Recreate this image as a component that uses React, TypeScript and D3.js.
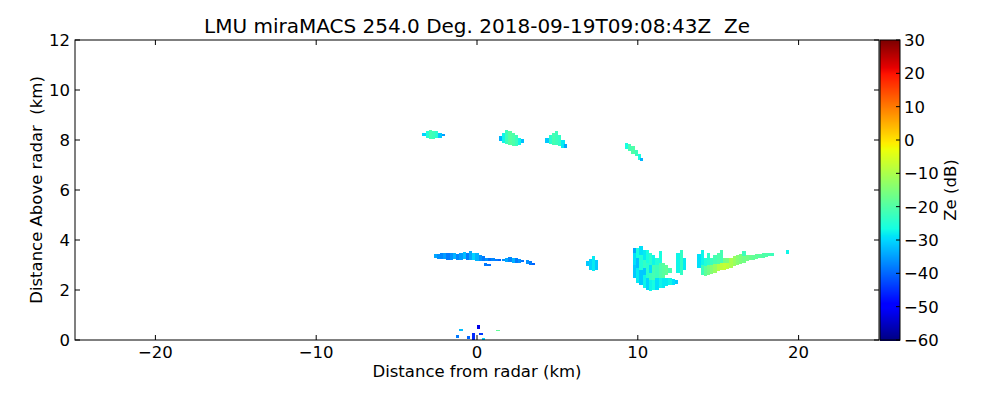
import React from "react";
import * as d3 from "d3";

// ---- Data (range km, height bottom km, height top km, Ze dB) ----
const titleText = "LMU miraMACS 254.0 Deg. 2018-09-19T09:08:43Z  Ze";
const xTicks = [-20, -10, 0, 10, 20];
const yTicks = [0, 2, 4, 6, 8, 10, 12];
const cbTicks = [-60, -50, -40, -30, -20, -10, 0, 10, 20, 30];

const echoUpperA: [number, number, number, number][] = [
  [-3.3, 8.15, 8.27, -30], [-3.1, 8.1, 8.35, -25], [-2.9, 8.05, 8.4, -21],
  [-2.7, 8.05, 8.38, -22], [-2.5, 8.1, 8.35, -24], [-2.3, 8.1, 8.28, -31],
  [-2.1, 8.15, 8.25, -35],
];
const echoUpperB: [number, number, number, number][] = [
  [1.45, 7.95, 8.15, -33], [1.65, 7.9, 8.3, -27], [1.85, 7.85, 8.4, -22],
  [2.05, 7.8, 8.35, -19], [2.25, 7.75, 8.3, -20], [2.45, 7.75, 8.2, -22],
  [2.65, 7.8, 8.1, -27], [2.85, 7.9, 8.05, -32],
];
const echoUpperC: [number, number, number, number][] = [
  [4.35, 7.9, 8.1, -31], [4.55, 7.85, 8.2, -24], [4.75, 7.8, 8.3, -21],
  [4.95, 7.8, 8.35, -22], [5.15, 7.75, 8.2, -23], [5.35, 7.7, 8.0, -28],
  [5.5, 7.7, 7.85, -34],
];
const echoUpperD: [number, number, number, number][] = [
  [9.3, 7.65, 7.9, -26], [9.5, 7.55, 7.85, -21], [9.7, 7.45, 7.75, -20],
  [9.9, 7.35, 7.6, -22], [10.1, 7.2, 7.45, -26], [10.25, 7.15, 7.3, -33],
];
const echoLowE: [number, number, number, number][] = [
  [-2.6, 3.3, 3.45, -34], [-2.4, 3.25, 3.45, -36], [-2.2, 3.25, 3.5, -37],
  [-2.0, 3.25, 3.5, -35], [-1.8, 3.22, 3.5, -38], [-1.6, 3.22, 3.48, -36],
  [-1.4, 3.25, 3.5, -33], [-1.2, 3.2, 3.45, -37], [-1.0, 3.22, 3.5, -35],
  [-0.8, 3.25, 3.52, -32], [-0.6, 3.2, 3.5, -38], [-0.4, 3.2, 3.55, -34],
  [-0.2, 3.2, 3.5, -30], [0.0, 3.18, 3.5, -33], [0.2, 3.15, 3.42, -36],
  [0.4, 3.15, 3.35, -38], [0.6, 3.15, 3.3, -36], [0.8, 3.15, 3.3, -39],
  [1.0, 3.15, 3.28, -37], [1.2, 3.15, 3.25, -38], [1.4, 3.17, 3.25, -40],
  [0.55, 2.98, 3.08, -38], [0.75, 2.98, 3.06, -39],
];
const echoLowF: [number, number, number, number][] = [
  [1.65, 3.15, 3.25, -36], [1.85, 3.12, 3.3, -34], [2.05, 3.12, 3.32, -37],
  [2.25, 3.1, 3.3, -33], [2.45, 3.1, 3.3, -38], [2.65, 3.1, 3.25, -36],
  [2.85, 3.12, 3.22, -39], [3.15, 3.05, 3.2, -36], [3.35, 3.02, 3.15, -38],
  [3.5, 3.0, 3.08, -40],
];
const echoLowG: [number, number, number, number][] = [
  [6.85, 2.95, 3.15, -31], [7.05, 2.8, 3.25, -30], [7.25, 2.75, 3.35, -28],
  [7.45, 2.8, 3.2, -31],
];
const echoLowH: [number, number, number, number][] = [
  [9.8, 2.5, 3.0, -31], [9.8, 3.0, 3.5, -29], [9.8, 3.5, 3.7, -34],
  [10.0, 2.3, 2.9, -28], [10.0, 2.9, 3.3, -32], [10.0, 3.3, 3.7, -26],
  [10.2, 2.2, 2.8, -31], [10.2, 2.8, 3.4, -25], [10.2, 3.4, 3.75, -29],
  [10.4, 2.1, 2.6, -27], [10.4, 2.6, 2.9, -31], [10.4, 2.9, 3.2, -23], [10.4, 3.2, 3.6, -28],
  [10.6, 2.0, 2.5, -30], [10.6, 2.5, 3.1, -24], [10.6, 3.1, 3.6, -26],
  [10.8, 1.95, 2.4, -27], [10.8, 2.4, 2.7, -22], [10.8, 2.7, 3.0, -29], [10.8, 3.0, 3.5, -24],
  [11.0, 2.0, 2.4, -26], [11.0, 2.4, 3.0, -21], [11.0, 3.0, 3.4, -27],
  [11.2, 2.0, 2.5, -29], [11.2, 2.5, 3.0, -22], [11.2, 3.0, 3.3, -25],
  [11.4, 2.1, 2.5, -27], [11.4, 2.5, 3.1, -20], [11.4, 3.1, 3.55, -26],
  [11.6, 2.1, 2.5, -28], [11.6, 2.5, 3.1, -19],
  [11.8, 2.15, 2.5, -28], [11.8, 2.6, 3.0, -18],
  [12.0, 2.2, 2.5, -27], [12.0, 2.7, 2.9, -21],
  [12.2, 2.2, 2.45, -29], [12.4, 2.25, 2.4, -31],
];
const echoLowStreak: [number, number, number, number][] = [
  [12.5, 2.7, 3.5, -27], [12.7, 2.6, 3.6, -23], [12.9, 2.8, 3.3, -28],
];
const echoLowWedge: [number, number, number, number][] = [
  [13.8, 2.9, 3.45, -29],
  [14.0, 2.6, 3.0, -22], [14.0, 3.0, 3.6, -27],
  [14.2, 2.55, 2.95, -18], [14.2, 2.95, 3.3, -25],
  [14.4, 2.6, 3.0, -16], [14.4, 3.0, 3.5, -24],
  [14.6, 2.65, 3.0, -14], [14.6, 3.0, 3.3, -22],
  [14.8, 2.7, 3.05, -12], [14.8, 3.05, 3.4, -21],
  [15.0, 2.75, 3.05, -9], [15.0, 3.05, 3.5, -20],
  [15.2, 2.8, 3.1, -8], [15.2, 3.1, 3.6, -21],
  [15.4, 2.8, 3.1, -7], [15.4, 3.1, 3.3, -16],
  [15.6, 2.85, 3.1, -8], [15.6, 3.1, 3.3, -15],
  [15.8, 2.9, 3.3, -10], [16.0, 2.95, 3.35, -12],
  [16.2, 3.0, 3.4, -14], [16.4, 3.05, 3.45, -15],
  [16.6, 3.1, 3.35, -16], [16.6, 3.35, 3.55, -22],
  [16.8, 3.15, 3.4, -16], [17.0, 3.2, 3.4, -17],
  [17.2, 3.22, 3.42, -18], [17.4, 3.25, 3.45, -18],
  [17.6, 3.28, 3.45, -19], [17.8, 3.3, 3.47, -20],
  [18.0, 3.32, 3.48, -20], [18.2, 3.35, 3.5, -21],
  [18.4, 3.38, 3.5, -22], [19.3, 3.45, 3.6, -27],
];
const clutter: [number, number, number, number][] = [
  [-1.2, 0.1, 0.2, -38], [-1.0, 0.35, 0.45, -32], [-0.55, 0.05, 0.15, -40],
  [-0.2, 0.0, 0.3, -45], [0.1, 0.45, 0.6, -52], [0.25, 0.2, 0.3, -44],
  [0.4, 0.0, 0.1, -30], [1.3, 0.35, 0.42, -18],
];

const echoes = [
  echoUpperA, echoUpperB, echoUpperC, echoUpperD,
  echoLowE, echoLowF, echoLowG, echoLowH, echoLowStreak, echoLowWedge, clutter,
];

// matplotlib "jet" colormap
function jet(t: number): string {
  const c = Math.max(0, Math.min(1, t));
  const lerp = (pts: [number, number][]) => {
    for (let i = 1; i < pts.length; i++) {
      if (c <= pts[i][0]) {
        const [x0, y0] = pts[i - 1];
        const [x1, y1] = pts[i];
        return y0 + ((c - x0) / (x1 - x0 || 1)) * (y1 - y0);
      }
    }
    return pts[pts.length - 1][1];
  };
  const r = lerp([[0, 0], [0.35, 0], [0.66, 1], [0.89, 1], [1, 0.5]]);
  const g = lerp([[0, 0], [0.125, 0], [0.375, 1], [0.64, 1], [0.91, 0], [1, 0]]);
  const b = lerp([[0, 0.5], [0.11, 1], [0.34, 1], [0.65, 0], [1, 0]]);
  return d3.rgb(r * 255, g * 255, b * 255).formatHex();
}

export default function App() {
  const W = 1000, H = 400;
  const left = 75, right = 879, top = 40, bottom = 340;
  const x = d3.scaleLinear().domain([-25, 25]).range([left, right]);
  const y = d3.scaleLinear().domain([0, 12]).range([bottom, top]);
  const zMin = -60, zMax = 30;
  const color = (v: number) => jet((v - zMin) / (zMax - zMin));
  const cbX0 = 880, cbX1 = 900;
  const cb = d3.scaleLinear().domain([zMin, zMax]).range([bottom, top]);
  const cellW = 0.2;
  const font = "DejaVu Sans, sans-serif";
  const tickLen = 5;
  const fs = 16.5;
  const cbSteps = d3.range(0, 300);
  const fmt = (t: number) => (t < 0 ? `\u2212${-t}` : `${t}`);

  return (
    <svg width={W} height={H} style={{ position: "absolute", left: 0, top: 0, background: "#fff" }} fontFamily={font}>
      <rect x={0} y={0} width={W} height={H} fill="#fff" />
      <g shapeRendering="crispEdges">
        {echoes.map((arr, i) =>
          arr.map(([cx, y0, y1, v], j) => (
            <rect key={`${i}-${j}`} x={x(cx - cellW / 2)} y={y(y1)}
              width={x(cx + cellW / 2) - x(cx - cellW / 2)} height={y(y0) - y(y1)} fill={color(v)} />
          ))
        )}
      </g>
      <rect x={left} y={top} width={right - left} height={bottom - top} fill="none" stroke="#000" strokeWidth={1} />
      {xTicks.map((t) => (
        <g key={`xt${t}`}>
          <line x1={x(t)} x2={x(t)} y1={bottom} y2={bottom - tickLen} stroke="#000" />
          <line x1={x(t)} x2={x(t)} y1={top} y2={top + tickLen} stroke="#000" />
          <text x={x(t)} y={bottom + 18} fontSize={fs} textAnchor="middle">{fmt(t)}</text>
        </g>
      ))}
      {yTicks.map((t) => (
        <g key={`yt${t}`}>
          <line x1={left} x2={left + tickLen} y1={y(t)} y2={y(t)} stroke="#000" />
          <line x1={right} x2={right - tickLen} y1={y(t)} y2={y(t)} stroke="#000" />
          <text x={left - 5} y={y(t) + 6} fontSize={fs} textAnchor="end">{t}</text>
        </g>
      ))}
      <text x={(left + right) / 2} y={377} fontSize={fs} textAnchor="middle">Distance from radar (km)</text>
      <text transform={`translate(42,${(top + bottom) / 2}) rotate(-90)`} fontSize={fs} textAnchor="middle" style={{ whiteSpace: "pre" }}>Distance Above radar  (km)</text>
      <text x={(left + right) / 2} y={33} fontSize={20} textAnchor="middle" style={{ whiteSpace: "pre" }}>{titleText}</text>
      <g shapeRendering="crispEdges">
        {cbSteps.map((i) => {
          const v0 = zMin + (i / cbSteps.length) * (zMax - zMin);
          const v1 = zMin + ((i + 1) / cbSteps.length) * (zMax - zMin);
          return <rect key={`cb${i}`} x={cbX0} y={cb(v1)} width={cbX1 - cbX0} height={cb(v0) - cb(v1) + 0.5} fill={color((v0 + v1) / 2)} />;
        })}
      </g>
      <rect x={cbX0} y={top} width={cbX1 - cbX0} height={bottom - top} fill="none" stroke="#000" />
      {cbTicks.map((t) => (
        <g key={`cbt${t}`}>
          <line x1={cbX1} x2={cbX1 - 4} y1={cb(t)} y2={cb(t)} stroke="#000" />
          <text x={cbX1 + 4} y={cb(t) + 6} fontSize={fs}>{fmt(t)}</text>
        </g>
      ))}
      <text transform={`translate(956,${(top + bottom) / 2}) rotate(-90)`} fontSize={fs} textAnchor="middle">Ze (dB)</text>
    </svg>
  );
}
